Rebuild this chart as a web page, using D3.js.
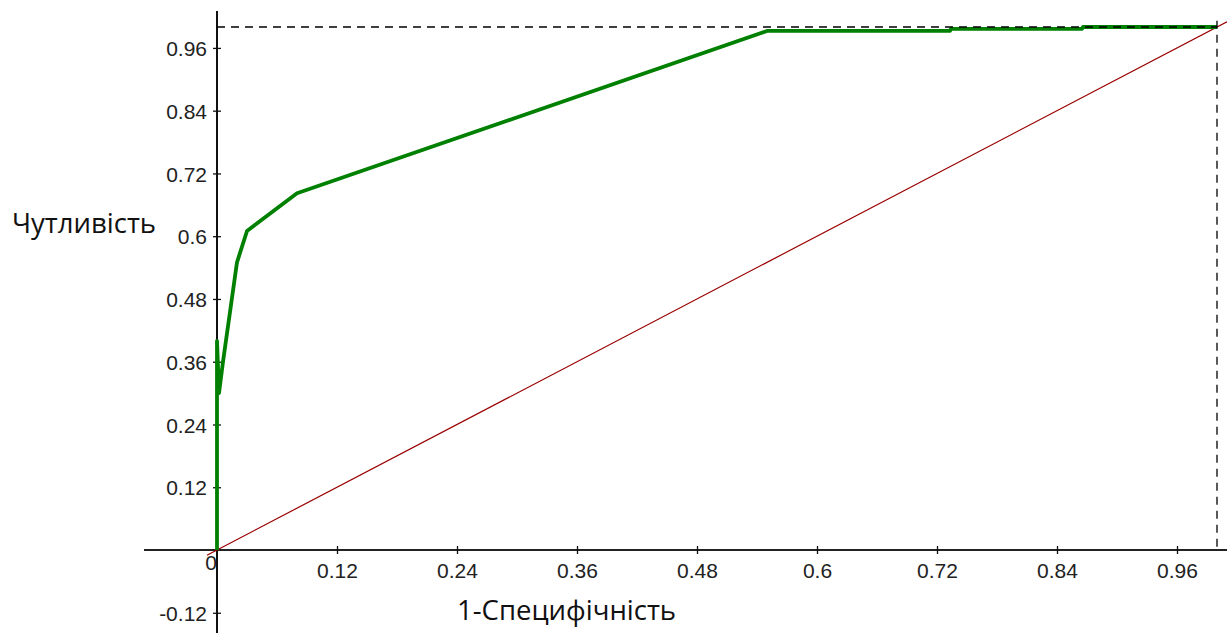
<!DOCTYPE html>
<html>
<head>
<meta charset="utf-8">
<script src="https://cdn.jsdelivr.net/npm/d3@7"></script>
<style>
  html, body { margin: 0; padding: 0; background: #fff; }
  svg { display: block; }
</style>
</head>
<body>
<svg id="chart" width="1227" height="633"></svg>
<script>
// ROC curve
const fprValues = [0, 0, 0.002, 0.006, 0.02, 0.03, 0.08, 0.55, 0.733, 0.734, 0.865, 0.866, 1]
const tprValues = [0, 0.40, 0.30, 0.36, 0.55, 0.61, 0.682, 0.9925, 0.9925, 0.9965, 0.9965, 1, 1]

const xTicks = [0.12, 0.24, 0.36, 0.48, 0.6, 0.72, 0.84, 0.96]
const xTickLabels = ['0.12', '0.24', '0.36', '0.48', '0.6', '0.72', '0.84', '0.96']
const yTicks = [-0.12, 0.12, 0.24, 0.36, 0.48, 0.6, 0.72, 0.84, 0.96]
const yTickLabels = ['-0.12', '0.12', '0.24', '0.36', '0.48', '0.6', '0.72', '0.84', '0.96']

const xTitle = '1-Специфічність'
const yTitle = 'Чутливість'

const svg = d3.select('#chart')

const x = d3.scaleLinear().domain([0, 1]).range([217, 1217])
const y = d3.scaleLinear().domain([0, 1]).range([550, 27])

const tickFont = '"Liberation Sans Narrow", "Liberation Sans", sans-serif'
const titleFont = '"Open Sans", "Noto Sans", sans-serif'

// axis lines across the whole plot
svg.append('line')
  .attr('x1', x(-0.073)).attr('x2', x(1.01))
  .attr('y1', y(0)).attr('y2', y(0))
  .attr('stroke', '#222').attr('stroke-width', 2)

svg.append('line')
  .attr('x1', x(0)).attr('x2', x(0))
  .attr('y1', y(1.0306)).attr('y2', y(-0.16))
  .attr('stroke', '#111').attr('stroke-width', 2)

// y axis ticks and labels
const yAxis = svg.append('g')
  .attr('transform', `translate(${x(0)},0)`)
  .call(d3.axisLeft(y).tickValues(yTicks).tickSize(4)
    .tickFormat((d, i) => yTickLabels[i]))
yAxis.select('.domain').remove()
yAxis.selectAll('.tick line').attr('x1', 4).attr('stroke', '#111').attr('stroke-width', 1.3)
yAxis.selectAll('.tick text')
  .attr('x', -10)
  .attr('dy', '0.36em')
  .attr('font-family', tickFont)
  .attr('font-size', 21)
  .attr('fill', '#222')

// x axis ticks and labels
const xAxis = svg.append('g')
  .attr('transform', `translate(0,${y(0)})`)
  .call(d3.axisBottom(x).tickValues(xTicks).tickSize(4)
    .tickFormat((d, i) => xTickLabels[i]))
xAxis.select('.domain').remove()
xAxis.selectAll('.tick line').attr('y1', -4).attr('stroke', '#111').attr('stroke-width', 1.3)
xAxis.selectAll('.tick text')
  .attr('y', 28)
  .attr('dy', 0)
  .attr('font-family', tickFont)
  .attr('font-size', 21)
  .attr('fill', '#222')

svg.append('text')
  .attr('x', x(0) - 6).attr('y', y(0) + 20)
  .attr('text-anchor', 'middle')
  .attr('font-family', tickFont)
  .attr('font-size', 21)
  .attr('fill', '#222')
  .text('0')

// chance diagonal
svg.append('line')
  .attr('x1', x(-0.01)).attr('y1', y(-0.01))
  .attr('x2', x(1.01)).attr('y2', y(1.01))
  .attr('stroke', '#9a0000').attr('stroke-width', 1.2)

// ROC curve
const roc = d3.line()
  .x((d, i) => x(fprValues[i]))
  .y((d, i) => y(tprValues[i]))

svg.append('path')
  .datum(fprValues)
  .attr('d', roc)
  .attr('fill', 'none')
  .attr('stroke', '#008000')
  .attr('stroke-width', 3.8)
  .attr('stroke-linejoin', 'round')

// dashed guides at 1
svg.append('line')
  .attr('x1', x(0)).attr('x2', x(1))
  .attr('y1', y(1)).attr('y2', y(1))
  .attr('stroke', '#000').attr('stroke-width', 1.3)
  .attr('stroke-dasharray', '8,6')

svg.append('line')
  .attr('x1', x(1)).attr('x2', x(1))
  .attr('y1', y(1.012)).attr('y2', y(0))
  .attr('stroke', '#000').attr('stroke-width', 1.3)
  .attr('stroke-dasharray', '8,6')

// axis titles
svg.append('text')
  .attr('x', 12).attr('y', 233)
  .attr('font-family', titleFont)
  .attr('font-size', 27.5)
  .attr('fill', '#111')
  .text(yTitle)

svg.append('text')
  .attr('x', 457).attr('y', 620)
  .attr('font-family', titleFont)
  .attr('font-size', 27.5)
  .attr('fill', '#111')
  .text(xTitle)
</script>
</body>
</html>
